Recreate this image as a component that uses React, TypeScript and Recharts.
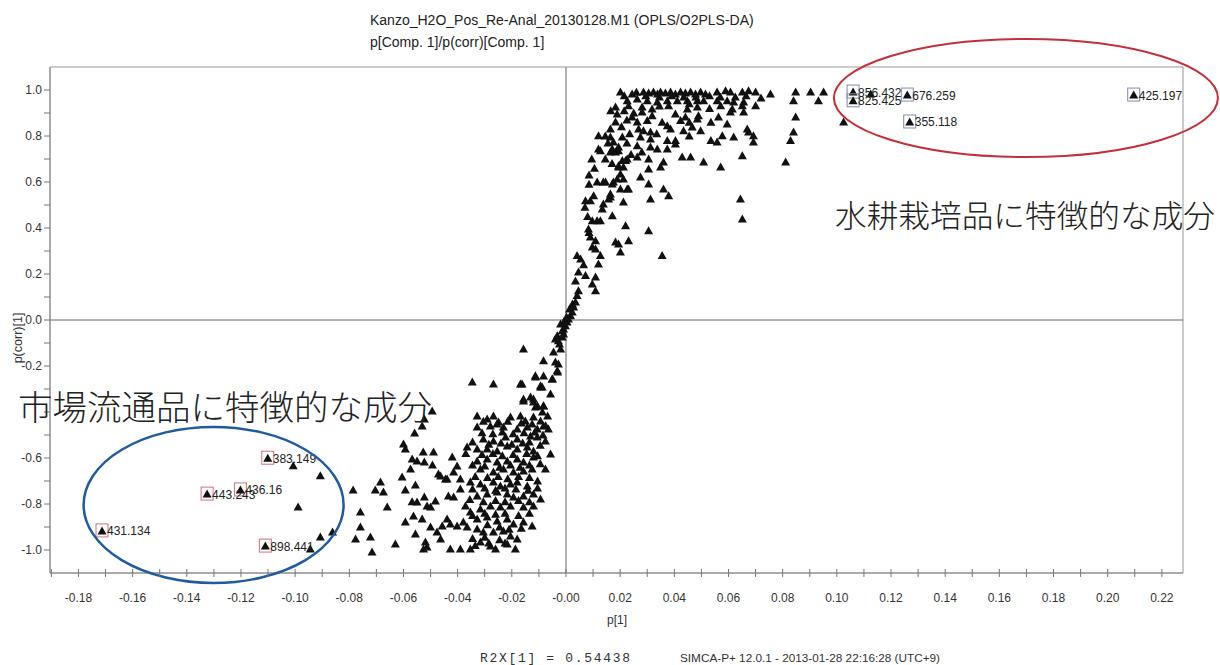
import React from 'react';
import {
  ScatterChart,
  Scatter,
  XAxis,
  YAxis,
  ReferenceLine,
  ReferenceArea,
  ReferenceDot,
} from 'recharts';

// ---------- tick values ----------
const xTicks = [
  -0.19, -0.18, -0.17, -0.16, -0.15, -0.14, -0.13, -0.12, -0.11, -0.1, -0.09, -0.08, -0.07,
  -0.06, -0.05, -0.04, -0.03, -0.02, -0.01, 0, 0.01, 0.02, 0.03, 0.04, 0.05, 0.06, 0.07, 0.08,
  0.09, 0.1, 0.11, 0.12, 0.13, 0.14, 0.15, 0.16, 0.17, 0.18, 0.19, 0.2, 0.21, 0.22,
];
const yTicks = [
  -1.0, -0.9, -0.8, -0.7, -0.6, -0.5, -0.4, -0.3, -0.2, -0.1, 0, 0.1, 0.2, 0.3, 0.4, 0.5, 0.6,
  0.7, 0.8, 0.9, 1.0,
];

// ---------- loadings: p[1] , p(corr)[1] ----------
const lowerSparse: [number, number][] = [
  [-0.1007, -0.634], [-0.0907, -0.677], [-0.0989, -0.813], [-0.0907, -0.943], [-0.0862, -0.922],
  [-0.0944, -0.996], [-0.0786, -0.739], [-0.0759, -0.835], [-0.0759, -0.9], [-0.0777, -0.952],
  [-0.0722, -0.943], [-0.0716, -1.009], [-0.0685, -0.704], [-0.0704, -0.739], [-0.0674, -0.748],
  [-0.066, -0.813], [-0.063, -0.974], [-0.06, -0.539], [-0.0593, -0.561], [-0.0559, -0.491],
  [-0.0531, -0.461], [-0.0523, -0.43], [-0.0605, -0.683], [-0.0593, -0.739], [-0.0574, -0.648],
  [-0.0568, -0.604], [-0.055, -0.613], [-0.0527, -0.574], [-0.0489, -0.574], [-0.0523, -0.617],
  [-0.0493, -0.63], [-0.0471, -0.67], [-0.0445, -0.691], [-0.0556, -0.717], [-0.0568, -0.79],
  [-0.055, -0.791], [-0.0523, -0.77], [-0.0513, -0.809], [-0.0482, -0.787], [-0.05, -0.813],
  [-0.0563, -0.852], [-0.0593, -0.878], [-0.0531, -0.865], [-0.05, -0.9], [-0.0476, -0.922],
  [-0.0457, -0.896], [-0.0556, -0.93], [-0.0519, -0.965], [-0.0526, -0.996], [-0.0513, -0.987],
  [-0.0463, -0.952], [-0.0439, -0.865], [-0.0494, -0.396],
];

const lowerBlob: [number, number][] = [
  [-0.0346, -0.27], [-0.0268, -0.278], [-0.0168, -0.278], [-0.0113, -0.248], [-0.0083, -0.243],
  [-0.005, -0.257], [-0.0031, -0.226], [-0.0094, -0.291], [-0.0157, -0.352], [-0.012, -0.343],
  [-0.0105, -0.374], [-0.0083, -0.374], [-0.0087, -0.4],
  [-0.0328, -0.417], [-0.0291, -0.43], [-0.0268, -0.417], [-0.0249, -0.443], [-0.0205, -0.422],
  [-0.0168, -0.417], [-0.015, -0.439], [-0.012, -0.422], [-0.0094, -0.439], [-0.0068, -0.417],
  [-0.0328, -0.465], [-0.0279, -0.461], [-0.0231, -0.465], [-0.018, -0.474], [-0.0143, -0.465],
  [-0.0106, -0.474], [-0.0083, -0.461],
  [-0.0305, -0.517], [-0.0268, -0.526], [-0.0223, -0.509], [-0.018, -0.517], [-0.0131, -0.504],
  [-0.0106, -0.509], [-0.0076, -0.526],
  [-0.0365, -0.552], [-0.0328, -0.561], [-0.0291, -0.561], [-0.0254, -0.57], [-0.0217, -0.548],
  [-0.018, -0.561], [-0.0143, -0.552], [-0.012, -0.57],
  [-0.042, -0.596], [-0.0402, -0.635],
  [-0.0328, -0.613], [-0.0291, -0.604], [-0.0254, -0.617], [-0.0217, -0.613], [-0.018, -0.604],
  [-0.0157, -0.617], [-0.012, -0.596],
  [-0.0463, -0.678], [-0.0415, -0.661], [-0.039, -0.691],
  [-0.0316, -0.648], [-0.0268, -0.661], [-0.0231, -0.648], [-0.0194, -0.661], [-0.0157, -0.657],
  [-0.0125, -0.648],
  [-0.0316, -0.713], [-0.0268, -0.704], [-0.0242, -0.722], [-0.0205, -0.713], [-0.018, -0.704],
  [-0.0143, -0.722], [-0.0439, -0.691], [-0.0353, -0.704], [-0.039, -0.735], [-0.0434, -0.765],
  [-0.0415, -0.77],
  [-0.0328, -0.765], [-0.0291, -0.757], [-0.0254, -0.748], [-0.0217, -0.757], [-0.0194, -0.77],
  [-0.0157, -0.765], [-0.012, -0.757],
  [-0.0371, -0.809], [-0.0353, -0.835], [-0.0316, -0.822], [-0.0279, -0.809], [-0.0242, -0.813],
  [-0.0205, -0.809], [-0.0157, -0.813], [-0.012, -0.809],
  [-0.0427, -0.887], [-0.0402, -0.896], [-0.0379, -0.878],
  [-0.0328, -0.865], [-0.0291, -0.857], [-0.0254, -0.874], [-0.0217, -0.865], [-0.0194, -0.887],
  [-0.0157, -0.878], [-0.0125, -0.896],
  [-0.0328, -0.909], [-0.0305, -0.922], [-0.0268, -0.922], [-0.0231, -0.917], [-0.0205, -0.939],
  [-0.018, -0.952],
  [-0.0427, -0.996], [-0.039, -0.996], [-0.0353, -0.996], [-0.0316, -0.965], [-0.0279, -0.983],
  [-0.026, -0.996], [-0.0217, -0.974], [-0.0187, -0.996],
  [-0.0057, -0.322], [-0.0065, -0.474], [-0.0057, -0.583], [-0.0076, -0.648], [-0.0094, -0.778],
];

const blobCore: [number, number][] = [
  [-0.0305, -0.44], [-0.0255, -0.452], [-0.0215, -0.44], [-0.0165, -0.448], [-0.0125, -0.452],
  [-0.0075, -0.46], [-0.031, -0.49], [-0.027, -0.495], [-0.0235, -0.487], [-0.0195, -0.495],
  [-0.0155, -0.49], [-0.0115, -0.487], [-0.0085, -0.5], [-0.0345, -0.53], [-0.0285, -0.54],
  [-0.024, -0.535], [-0.02, -0.54], [-0.016, -0.535], [-0.0135, -0.53], [-0.0095, -0.545],
  [-0.037, -0.58], [-0.031, -0.585], [-0.027, -0.58], [-0.0235, -0.59], [-0.0195, -0.585],
  [-0.0145, -0.58], [-0.0105, -0.59], [-0.0345, -0.63], [-0.03, -0.635], [-0.0245, -0.64],
  [-0.0205, -0.63], [-0.017, -0.64], [-0.0135, -0.63], [-0.0095, -0.625], [-0.0335, -0.68],
  [-0.029, -0.685], [-0.025, -0.68], [-0.0215, -0.69], [-0.0175, -0.68], [-0.0135, -0.685],
  [-0.0105, -0.7], [-0.0345, -0.735], [-0.03, -0.73], [-0.026, -0.74], [-0.0225, -0.73],
  [-0.0185, -0.735], [-0.014, -0.74], [-0.0105, -0.73], [-0.0355, -0.78], [-0.0305, -0.79],
  [-0.026, -0.785], [-0.0225, -0.79], [-0.0175, -0.785], [-0.0135, -0.79], [-0.0345, -0.85],
  [-0.03, -0.84], [-0.026, -0.845], [-0.0225, -0.84], [-0.0175, -0.85], [-0.0135, -0.84],
  [-0.0365, -0.9], [-0.029, -0.89], [-0.0245, -0.9], [-0.021, -0.91], [-0.0165, -0.905],
  [-0.0345, -0.95], [-0.03, -0.945], [-0.0245, -0.955], [-0.0225, -0.97], [-0.0285, -0.97],
  [-0.0335, -0.98],
];

const diagonal: [number, number][] = [
  [0.0127, 0.736], [0.0164, 0.73], [0.0183, 0.73], [0.0194, 0.736], [0.0208, 0.693],
  [0.0226, 0.7], [0.0194, 0.665], [0.0201, 0.635], [0.0189, 0.613], [0.0212, 0.613],
  [0.0226, 0.57], [0.0201, 0.57], [0.0175, 0.6], [0.0115, 0.6], [0.0146, 0.6], [0.0171, 0.591],
  [0.0164, 0.548], [0.0157, 0.526], [0.0138, 0.504], [0.0134, 0.483], [0.009, 0.519],
  [0.0072, 0.519], [0.0102, 0.54], [0.0171, 0.453], [0.022, 0.41], [0.0115, 0.432],
  [0.0097, 0.432], [0.0127, 0.432], [0.0083, 0.396], [0.009, 0.361], [0.0109, 0.345],
  [0.0097, 0.317], [0.0109, 0.309], [0.0183, 0.339], [0.0194, 0.33], [0.0201, 0.296],
  [0.0231, 0.345], [0.0127, 0.28], [0.012, 0.243], [0.0041, 0.28], [0.0054, 0.265],
  [0.0046, 0.209], [0.0072, 0.193], [0.0109, 0.187], [0.0097, 0.157], [0.0109, 0.127],
  [0.0046, 0.127], [0.0041, 0.106], [0.0035, 0.078], [0.0028, 0.057], [0.0023, 0.035],
  [0.0017, 0.019], [0.0009, 0.004], [0.0004, -0.009], [-0.0002, -0.025], [-0.0009, -0.039],
  [-0.0014, -0.047], [-0.002, -0.017], [-0.0032, -0.068], [-0.0028, -0.09], [-0.0039, -0.083],
  [-0.0014, -0.074], [-0.0009, -0.061], [-0.002, -0.126], [-0.0046, -0.139], [-0.0039, -0.183],
  [-0.0028, -0.191], [-0.0083, -0.177], [-0.0157, -0.126], [-0.0032, -0.22], [-0.0051, -0.257],
  [-0.0113, -0.242], [-0.0094, -0.286], [-0.0088, -0.291], [-0.0162, -0.278], [-0.0131, -0.335],
  [-0.012, -0.357], [-0.0113, -0.378], [-0.0083, -0.373], [-0.0157, -0.343],
  [0.0002, 0.013], [-0.0006, -0.004], [0.0013, 0.048], [0.0024, 0.07], [-0.0024, -0.104],
  [0.007, 0.49], [0.008, 0.45], [0.0085, 0.38], [0.0065, 0.24], [0.0035, 0.17],
];

const upperCluster: [number, number][] = [
  [0.0201, 0.991], [0.0244, 0.983], [0.0286, 0.991], [0.0305, 0.987], [0.0323, 0.991],
  [0.0338, 0.983], [0.0349, 0.991], [0.0367, 0.987], [0.0386, 0.991], [0.0404, 0.983],
  [0.0423, 0.991], [0.0441, 0.987], [0.046, 0.991], [0.0478, 0.983], [0.0497, 0.991],
  [0.0515, 0.983], [0.0558, 0.991], [0.0589, 0.997], [0.0607, 0.991], [0.0651, 0.991],
  [0.0674, 0.997], [0.07, 0.991], [0.0755, 0.983], [0.0848, 0.991], [0.0903, 0.991],
  [0.0951, 0.991], [0.084, 0.953], [0.0932, 0.953],
  [0.0226, 0.953], [0.0263, 0.961], [0.03, 0.953], [0.0337, 0.948], [0.0374, 0.953],
  [0.0411, 0.953], [0.0448, 0.953], [0.0485, 0.953], [0.0508, 0.953], [0.0558, 0.953],
  [0.0595, 0.953], [0.0619, 0.948], [0.0656, 0.948],
  [0.0183, 0.926], [0.0231, 0.932], [0.0281, 0.926], [0.0318, 0.917], [0.0379, 0.932],
  [0.0448, 0.917], [0.0485, 0.926], [0.0571, 0.932], [0.0614, 0.917], [0.0651, 0.932],
  [0.07, 0.932],
  [0.0189, 0.896], [0.0244, 0.883], [0.0281, 0.904], [0.0318, 0.888], [0.0404, 0.896],
  [0.0441, 0.883], [0.0489, 0.888], [0.0563, 0.883], [0.0607, 0.904], [0.0656, 0.904],
  [0.0848, 0.883],
  [0.0183, 0.861], [0.0263, 0.861], [0.03, 0.867], [0.0374, 0.845], [0.0423, 0.867],
  [0.0485, 0.874],
  [0.0164, 0.83], [0.0268, 0.83], [0.0286, 0.823], [0.0312, 0.817], [0.0386, 0.83],
  [0.0434, 0.823], [0.0466, 0.839], [0.0497, 0.823], [0.0595, 0.852], [0.0669, 0.83],
  [0.0674, 0.817],
  [0.012, 0.801], [0.0164, 0.796], [0.0208, 0.796], [0.0275, 0.796], [0.0312, 0.787],
  [0.0374, 0.78], [0.0404, 0.78], [0.0577, 0.801], [0.0619, 0.796], [0.0692, 0.801],
  [0.084, 0.817], [0.0829, 0.78],
  [0.0175, 0.774], [0.0194, 0.752], [0.0171, 0.743], [0.0263, 0.758], [0.0312, 0.752],
  [0.0337, 0.743], [0.0404, 0.765], [0.0374, 0.743], [0.0558, 0.774], [0.0692, 0.774],
  [0.012, 0.743],
  [0.0263, 0.709], [0.0305, 0.7], [0.022, 0.693], [0.0429, 0.709], [0.046, 0.709],
  [0.0508, 0.687], [0.0571, 0.665], [0.0651, 0.714], [0.0811, 0.687], [0.0194, 0.671],
  [0.0212, 0.665], [0.0349, 0.665], [0.036, 0.687], [0.0305, 0.657], [0.0275, 0.622],
  [0.0138, 0.6], [0.0231, 0.57], [0.0305, 0.591], [0.036, 0.57], [0.0379, 0.54],
  [0.0312, 0.526], [0.0212, 0.513], [0.0164, 0.535], [0.0644, 0.526], [0.0651, 0.439],
  [0.0305, 0.388], [0.0355, 0.28], [0.1025, 0.861], [0.1125, 0.983],
];

const upperCore: [number, number][] = [
  [0.0215, 0.975], [0.026, 0.99], [0.0295, 0.975], [0.0345, 0.97], [0.039, 0.975],
  [0.0435, 0.97], [0.048, 0.97], [0.053, 0.975], [0.057, 0.97], [0.0625, 0.97],
  [0.0665, 0.975], [0.072, 0.965], [0.0165, 0.91], [0.0215, 0.91], [0.025, 0.9],
  [0.0225, 0.87], [0.0205, 0.84], [0.0235, 0.81], [0.0145, 0.8], [0.0155, 0.77],
  [0.0225, 0.77], [0.028, 0.73], [0.024, 0.72], [0.0145, 0.7], [0.017, 0.68], [0.0095, 0.7],
  [0.0105, 0.66], [0.0085, 0.63], [0.0085, 0.59], [0.0345, 0.93], [0.0455, 0.94],
  [0.053, 0.92], [0.0355, 0.86], [0.0455, 0.86], [0.0535, 0.86], [0.0335, 0.81],
  [0.0455, 0.8], [0.0535, 0.78],
];

// ---------- labelled variables ----------
const topLabels = ['856.432', '825.425', '676.259', '355.118', '425.197'];
const topX = [0.106, 0.106, 0.126, 0.1269, 0.2096];
const topY = [0.991, 0.953, 0.978, 0.861, 0.978];

const bottomLabels = ['383.149', '436.16', '443.243', '431.134', '898.441'];
const bottomX = [-0.1101, -0.1202, -0.1325, -0.1713, -0.111];
const bottomY = [-0.601, -0.739, -0.757, -0.917, -0.983];

// ---------- annotation ellipses (data coordinates of centres) ----------
const hydroCentre = { x: 0.1698, y: 0.965 };
const marketCentre = { x: -0.1301, y: -0.804 };

const toPts = (arr: [number, number][]) => arr.map(([x, y]) => ({ x, y }));
const allPoints = [
  ...toPts(lowerSparse),
  ...toPts(lowerBlob),
  ...toPts(blobCore),
  ...toPts(diagonal),
  ...toPts(upperCluster),
  ...toPts(upperCore),
];
const topData = topLabels.map((label, i) => ({ x: topX[i], y: topY[i], label }));
const bottomData = bottomLabels.map((label, i) => ({ x: bottomX[i], y: bottomY[i], label }));

const SANS = '"Liberation Sans", Arial, Helvetica, sans-serif';
const CJK = '"Noto Sans CJK JP", "Noto Sans CJK SC", sans-serif';

const tri = (cx: number, cy: number) =>
  `${cx},${cy - 4.5} ${cx + 4.5},${cy + 3.5} ${cx - 4.5},${cy + 3.5}`;

const TriangleShape = (props: any) => {
  const { cx, cy } = props;
  if (cx == null || cy == null) return <g />;
  return <polygon points={tri(cx, cy)} fill="#111" />;
};

const makeLabeled = (boxColor: string) => (props: any) => {
  const { cx, cy, payload } = props;
  if (cx == null || cy == null) return <g />;
  return (
    <g>
      <rect x={cx - 6} y={cy - 7} width={12} height={13} fill="none" stroke={boxColor} strokeWidth={1} />
      <polygon points={tri(cx, cy)} fill="#111" />
      <text x={cx + 5} y={cy + 4.5} fontSize={12} fontFamily={SANS} fill="#222">
        {payload.label}
      </text>
    </g>
  );
};

const XTick = (props: any) => {
  const { x, y, payload } = props;
  const v = payload.value as number;
  const major = Math.round(v * 100) % 2 === 0;
  const label = Math.abs(v) < 1e-9 ? '-0.00' : v.toFixed(2);
  return (
    <g>
      <line x1={x} x2={x} y1={y - 4} y2={y + 4} stroke="#777" strokeWidth={1} />
      {major && (
        <text x={x} y={y + 29} textAnchor="middle" fontSize={12} fontFamily={SANS} fill="#333">
          {label}
        </text>
      )}
    </g>
  );
};

const YTick = (props: any) => {
  const { x, y, payload } = props;
  const v = payload.value as number;
  const major = Math.round(v * 10) % 2 === 0;
  const label = Math.abs(v) < 1e-9 ? '0.0' : v.toFixed(1);
  return (
    <g>
      <line x1={x - 6} x2={x} y1={y} y2={y} stroke="#777" strokeWidth={1} />
      {major && (
        <text x={x - 8} y={y + 4} textAnchor="end" fontSize={12} fontFamily={SANS} fill="#333">
          {label}
        </text>
      )}
    </g>
  );
};

export default function App() {
  return (
    <div style={{ position: 'absolute', left: 0, top: 0, width: 1220, height: 665, background: '#fff' }}>
      <ScatterChart width={1220} height={665} margin={{ top: 67, right: 37, bottom: 52, left: 0 }}>
        <XAxis
          type="number"
          dataKey="x"
          domain={[-0.1905, 0.2278]}
          ticks={xTicks}
          interval={0}
          tick={(p: any) => <XTick {...p} />}
          tickLine={false}
          tickSize={0}
          tickMargin={0}
          height={40}
          axisLine={{ stroke: '#888' }}
          allowDataOverflow
        />
        <YAxis
          type="number"
          dataKey="y"
          domain={[-1.1, 1.1]}
          ticks={yTicks}
          interval={0}
          tick={(p: any) => <YTick {...p} />}
          tickLine={false}
          tickSize={0}
          tickMargin={0}
          width={50}
          axisLine={{ stroke: '#888' }}
          allowDataOverflow
        />
        <ReferenceArea
          x1={-0.1905}
          x2={0.2278}
          y1={-1.1}
          y2={1.1}
          fill="none"
          fillOpacity={0}
          stroke="#999"
          strokeWidth={1}
          ifOverflow="visible"
        />
        <ReferenceLine x={0} stroke="#666" strokeWidth={1} />
        <ReferenceLine y={0} stroke="#666" strokeWidth={1} />
        <Scatter data={allPoints} shape={TriangleShape} isAnimationActive={false} />
        <Scatter data={topData} shape={makeLabeled('#7f8cab')} isAnimationActive={false} />
        <Scatter data={bottomData} shape={makeLabeled('#d0707a')} isAnimationActive={false} />
        <ReferenceDot
          x={hydroCentre.x}
          y={hydroCentre.y}
          r={1}
          ifOverflow="visible"
          shape={(p: any) => (
            <ellipse cx={p.cx} cy={p.cy} rx={192} ry={59} fill="none" stroke="#c3303a" strokeWidth={2} />
          )}
        />
        <ReferenceDot
          x={marketCentre.x}
          y={marketCentre.y}
          r={1}
          ifOverflow="visible"
          shape={(p: any) => (
            <ellipse cx={p.cx} cy={p.cy} rx={130} ry={78} fill="none" stroke="#1f5b9e" strokeWidth={2.5} />
          )}
        />
      </ScatterChart>
      <svg
        width={1220}
        height={665}
        style={{ position: 'absolute', left: 0, top: 0, pointerEvents: 'none' }}
      >
        <text x={370} y={25} fontSize={14} fontFamily={SANS} fill="#222">
          Kanzo_H2O_Pos_Re-Anal_20130128.M1 (OPLS/O2PLS-DA)
        </text>
        <text x={370} y={47} fontSize={14} fontFamily={SANS} fill="#222">
          p[Comp. 1]/p(corr)[Comp. 1]
        </text>
        <text x={617} y={624} textAnchor="middle" fontSize={12} fontFamily={SANS} fill="#333">
          p[1]
        </text>
        <text
          x={22}
          y={338}
          textAnchor="middle"
          fontSize={12.5}
          fontFamily={SANS}
          fill="#333"
          transform="rotate(-90, 22, 338)"
        >
          p(corr)[1]
        </text>
        <text
          x={480}
          y={662}
          fontSize={13}
          fontFamily='"Liberation Mono", "DejaVu Sans Mono", monospace'
          fill="#333"
          textLength={150}
          lengthAdjust="spacing"
        >
          R2X[1] = 0.54438
        </text>
        <text
          x={680}
          y={662}
          fontSize={10.5}
          fontFamily={SANS}
          fill="#333"
          textLength={260}
          lengthAdjust="spacingAndGlyphs"
        >
          SIMCA-P+ 12.0.1 - 2013-01-28 22:16:28 (UTC+9)
        </text>
        <text
          x={835}
          y={213}
          fontSize={31}
          fontFamily={CJK}
          fontWeight={300}
          fill="#222"
          dominantBaseline="central"
          textLength={380}
          lengthAdjust="spacingAndGlyphs"
        >
          水耕栽培品に特徴的な成分
        </text>
        <rect x={14} y={391} width={30} height={30} fill="#fff" />
        <text
          x={18}
          y={405}
          fontSize={34}
          fontFamily={CJK}
          fontWeight={300}
          fill="#222"
          dominantBaseline="central"
          textLength={414}
          lengthAdjust="spacingAndGlyphs"
        >
          市場流通品に特徴的な成分
        </text>
      </svg>
    </div>
  );
}
